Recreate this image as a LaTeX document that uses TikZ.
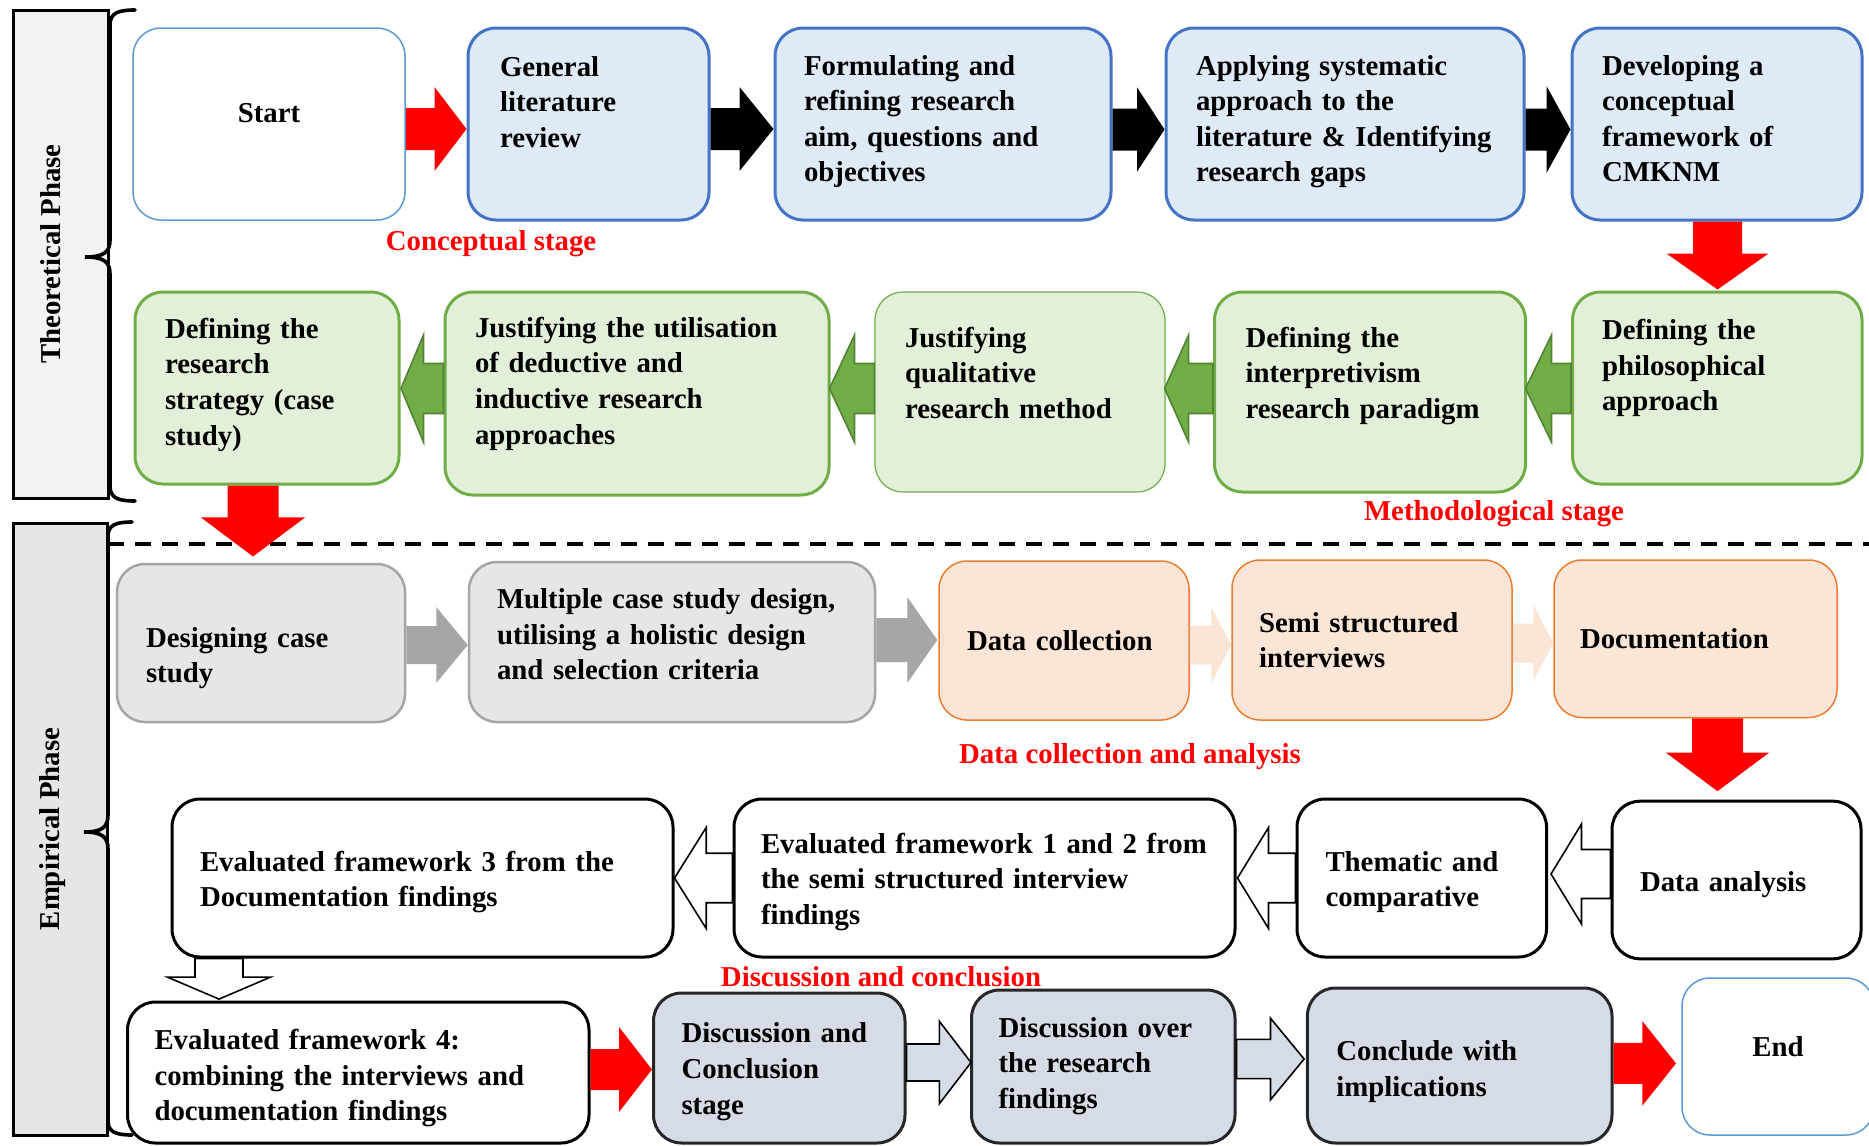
\documentclass[tikz,border=0pt]{standalone}
\usepackage{fontspec}
\setmainfont{Liberation Serif}
\usetikzlibrary{calc}
\definecolor{blueF}{HTML}{DEEBF7}
\definecolor{blueD}{HTML}{4472C4}
\definecolor{startD}{HTML}{5B9BD5}
\definecolor{greenF}{HTML}{E2F0D9}
\definecolor{greenD}{HTML}{70AD47}
\definecolor{greenAF}{HTML}{70AD47}
\definecolor{greenAD}{HTML}{548235}
\definecolor{grayF}{HTML}{E7E6E6}
\definecolor{grayD}{HTML}{A5A5A5}
\definecolor{grayAF}{HTML}{A6A6A6}
\definecolor{orF}{HTML}{FBE5D6}
\definecolor{orD}{HTML}{ED7D31}
\definecolor{bgF}{HTML}{D6DCE5}
\definecolor{phA}{HTML}{F2F2F2}
\definecolor{phB}{HTML}{E7E6E6}
\newcommand\bfnt{\fontsize{14.4}{17.8}\selectfont\bfseries}
\newcommand\txtup[1]{\rule[-#1]{0pt}{#1}}
\newcommand\txtdn[1]{\rule{0pt}{#1}}
% horizontal block arrow: style, tail, tip, Y, shaft half, head half, head length (signed), tip offset
\newcommand\harr[8]{%
  \path[#1] ($(#2 |- 0,#4)+(0,-#5)$) -- ($(#3 |- 0,#4)+({#8-(#7)},-#5)$)
    -- ($(#3 |- 0,#4)+({#8-(#7)},-#6)$) -- ($(#3 |- 0,#4)+(#8,0)$)
    -- ($(#3 |- 0,#4)+({#8-(#7)},#6)$) -- ($(#3 |- 0,#4)+({#8-(#7)},#5)$)
    -- ($(#2 |- 0,#4)+(0,#5)$) -- cycle;}
% vertical block arrow (downwards): style, tail, tip, X, shaft half, head half, head length, tip offset
\newcommand\varr[8]{%
  \path[#1] ($(#2 -| #4,0)+(-#5,0)$) -- ($(#3 -| #4,0)+(-#5,{#8-(#7)})$)
    -- ($(#3 -| #4,0)+(-#6,{#8-(#7)})$) -- ($(#3 -| #4,0)+(0,#8)$)
    -- ($(#3 -| #4,0)+(#6,{#8-(#7)})$) -- ($(#3 -| #4,0)+(#5,{#8-(#7)})$)
    -- ($(#2 -| #4,0)+(#5,0)$) -- cycle;}
\tikzset{
 bx/.style={rounded corners=14pt, align=left, font=\bfnt, inner ysep=0pt, line width=1.5pt, text=black},
 termbox/.style={bx, align=center, fill=white, draw=startD, line width=0.75pt},
 bluebox/.style={bx, fill=blueF, draw=blueD},
 greenbox/.style={bx, fill=greenF, draw=greenD},
 graybox/.style={bx, fill=grayF, draw=grayD, line width=1.25pt},
 orbox/.style={bx, fill=orF, draw=orD, line width=0.75pt},
 whbox/.style={bx, fill=white, draw=black},
 bgbox/.style={bx, fill=bgF, draw=black!85},
 phase/.style={draw=black, line width=1.5pt, font=\bfnt, inner sep=0pt, rotate=90},
 stage/.style={font=\bfnt, text=red, anchor=base, inner sep=0pt},
 brace/.style={line width=1.8pt, line cap=round},
 redA/.style={fill=red},
 blackA/.style={fill=black},
 greenA/.style={fill=greenAF, draw=greenAD, line width=0.8pt},
 grayA/.style={fill=grayAF},
 orA/.style={fill=orF},
 whiteA/.style={fill=white, draw=black, line width=0.8pt},
 bgA/.style={fill=bgF, draw=black, line width=0.8pt},
 sz/.style n args={3}{minimum width=#1pt, minimum height=#2pt, inner xsep=#3pt},
}
\begin{document}
\begin{tikzpicture}[x=0.5pt,y=-0.5pt]
\useasboundingbox (0,0) rectangle (1869,1146);
\fill[white] (0,0) rectangle (1869,1146);
\clip (0,0) rectangle (1869,1146);

% phase bars
\node[phase, fill=phA, minimum width=244pt, minimum height=47.5pt] (theo) at (60.5,254) {Theoretical Phase\txtup{9.5pt}};
\node[phase, fill=phB, minimum width=306pt, minimum height=47pt] (emp) at (60,829) {Empirical Phase\txtup{10pt}};

% braces
\draw[brace] (135,10) .. controls (118,10) and (110,13) .. (110,25) -- (110,240)
  .. controls (110,252) and (104,257) .. (85,257) .. controls (104,257) and (110,262) .. (110,274)
  -- (110,486) .. controls (110,498) and (118,501) .. (135,501);
\draw[brace] (132,522) .. controls (116,522) and (108,525) .. (108,536) -- (108,815)
  .. controls (108,827) and (102,832) .. (84,832) .. controls (102,832) and (108,837) .. (108,849)
  -- (108,1121) .. controls (108,1132) and (116,1135) .. (132,1135);

% dashed separator
\draw[line width=2pt, dash pattern=on 8pt off 5.5pt] (108,544) -- (1869,544);

% row 1
\node[termbox, sz={136}{96}{5}] (start) at (269,124) {Start\txtup{11pt}};
\node[bluebox, sz={120.5}{96}{16}, text width=88.5pt] (gen) at (588.5,124)
  {\mbox{General}\\\mbox{literature}\\\mbox{review}\txtup{22pt}};
\node[bluebox, sz={168}{96}{14.5}, text width=139pt] (form) at (943,124)
  {\mbox{Formulating and}\\\mbox{refining research}\\\mbox{aim, questions and}\\\mbox{objectives}\txtup{5.5pt}};
\node[bluebox, sz={179}{96}{15}, text width=149pt] (appl) at (1345,124)
  {\mbox{Applying systematic}\\\mbox{approach to the}\\\mbox{literature \& Identifying}\\\mbox{research gaps}\txtup{5.5pt}};
\node[bluebox, sz={145}{96}{15}, text width=115pt] (dev) at (1717,124)
  {\mbox{Developing a}\\\mbox{conceptual}\\\mbox{framework of}\\\mbox{CMKNM}\txtup{5.5pt}};

% row 2
\node[greenbox, sz={132}{96}{15}, text width=102pt] (strat) at (267,388)
  {\mbox{Defining the}\\\mbox{research}\\\mbox{strategy (case}\\\mbox{study)}\txtup{6.5pt}};
\node[greenbox, sz={192}{101.5}{15}, text width=162pt] (util) at (637,393.5)
  {\mbox{Justifying the utilisation}\\\mbox{of deductive and}\\\mbox{inductive research}\\\mbox{approaches}\txtup{13pt}};
\node[greenbox, line width=0.6pt, sz={145}{100}{15}, text width=115pt] (qual) at (1020,392)
  {\mbox{Justifying}\\\mbox{qualitative}\\\mbox{research method}\txtup{19.5pt}};
\node[greenbox, sz={155.5}{100}{15.5}, text width=124.5pt] (interp) at (1370,392)
  {\mbox{Defining the}\\\mbox{interpretivism}\\\mbox{research paradigm}\txtup{19.5pt}};
\node[greenbox, sz={144.75}{96}{14.75}, text width=115.25pt] (phil) at (1717.25,388)
  {\mbox{Defining the}\\\mbox{philosophical}\\\mbox{approach}\txtup{23pt}};

% row 3
\node[graybox, sz={144}{79}{14.5}, text width=115pt] (design) at (261,643)
  {\txtdn{25pt}\mbox{Designing case}\\\mbox{study}};
\node[graybox, sz={203}{80}{14}, text width=175pt] (multi) at (672,642)
  {\mbox{Multiple case study design,}\\\mbox{utilising a holistic design}\\\mbox{and selection criteria}\txtup{8pt}};
\node[orbox, sz={125}{79.5}{14}, text width=97pt] (dcol) at (1064,640.5)
  {\mbox{Data collection}};
\node[orbox, sz={140}{80}{13.5}, text width=113pt] (semi) at (1372,640)
  {\mbox{Semi structured}\\\mbox{interviews}};
\node[orbox, sz={141.5}{78.75}{13}, text width=115.5pt] (doc) at (1695.5,638.75)
  {\mbox{Documentation}};

% row 4
\node[whbox, sz={250.5}{79}{14}, text width=222.5pt] (ev3) at (422.5,878)
  {\txtdn{14pt}\mbox{Evaluated framework 3 from the}\\\mbox{Documentation findings}};
\node[whbox, sz={250.5}{79}{13.5}, text width=223.5pt] (ev12) at (984.5,878)
  {\txtdn{14pt}\mbox{Evaluated framework 1 and 2 from}\\\mbox{the semi structured interview}\\\mbox{findings}};
\node[whbox, sz={124.75}{79}{14.25}, text width=96.25pt] (them) at (1421.75,878)
  {\txtdn{14pt}\mbox{Thematic and}\\\mbox{comparative}};
\node[whbox, sz={124.5}{78.8}{14}, text width=96.5pt] (dana) at (1736.5,880)
  {\txtdn{14.8pt}\mbox{Data analysis}};

% row 5
\node[whbox, sz={230.75}{70.5}{13.5}, text width=203.75pt] (ev4) at (358.25,1072.5)
  {\txtdn{16pt}\mbox{Evaluated framework 4:}\\\mbox{combining the interviews and}\\\mbox{documentation findings}};
\node[bgbox, sz={125.75}{75}{14}, text width=97.75pt] (dcs) at (779.25,1068)
  {\txtdn{13.6pt}\mbox{Discussion and}\\\mbox{Conclusion}\\\mbox{stage}};
\node[bgbox, sz={131.75}{76.5}{13.5}, text width=104.75pt] (over) at (1103.25,1066.5)
  {\mbox{Discussion over}\\\mbox{the research}\\\mbox{findings}\txtup{3.6pt}};
\node[bgbox, sz={152.3}{77.5}{14.5}, text width=123.3pt] (concl) at (1459.7,1065.5)
  {\txtdn{16pt}\mbox{Conclude with}\\\mbox{implications}};
\node[termbox, sz={96}{78.5}{5}] (end) at (1778,1056.5) {End\txtup{10.5pt}};

% stage labels
\node[stage] (lconc) at (491,250.5) {Conceptual stage};
\node[stage] (lmeth) at (1494,520.5) {Methodological stage};
\node[stage] (ldata) at (1130,763.5) {Data collection and analysis};
\node[stage] (ldisc) at (881,986) {Discussion and conclusion};

% arrows row 1
\harr{redA}{start.east}{gen.west}{129}{21}{42}{32}{0}
\harr{blackA}{gen.east}{form.west}{129}{21}{42}{34}{0}
\harr{blackA}{form.east}{appl.west}{129.5}{21}{42.2}{27.5}{0}
\harr{blackA}{appl.east}{dev.west}{129.5}{21}{43.5}{24}{0}
\varr{redA}{dev.south}{phil.north}{1717.5}{24.5}{51}{36}{-1}
% arrows row 2
\harr{greenA}{phil.west}{interp.east}{388.5}{25}{53.5}{-26}{-1.5}
\harr{greenA}{interp.west}{qual.east}{388.5}{25}{53.5}{-24}{-1}
\harr{greenA}{qual.west}{util.east}{388.5}{25}{53.5}{-25}{-1}
\harr{greenA}{util.west}{strat.east}{388.5}{25}{53.5}{-22.5}{0.5}
\varr{redA}{strat.south}{design.north}{253}{25.5}{52}{39}{-6.3}
% arrows row 3
\harr{grayA}{design.east}{multi.west}{645}{19}{38}{31.5}{0}
\harr{grayA}{multi.east}{dcol.west}{640}{22}{43}{30}{-1}
\harr{orA}{dcol.east}{semi.west}{645}{19.5}{38}{20}{0}
\harr{orA}{semi.east}{doc.west}{643}{19.5}{38}{20}{0}
\varr{redA}{doc.south}{dana.north}{1717.5}{25.5}{51.5}{38.5}{-8.5}
% arrows row 4
\harr{whiteA}{dana.west}{them.east}{874}{24.5}{50}{-30.5}{3}
\harr{whiteA}{them.west}{ev12.east}{878}{24.75}{50.5}{-31}{1}
\harr{whiteA}{ev12.west}{ev3.east}{878}{24.75}{50.5}{-31.7}{0}
\varr{whiteA}{ev3.south}{ev4.north}{219}{24}{51.5}{22}{-1.4}
% arrows row 5
\harr{redA}{ev4.east}{dcs.west}{1069.5}{20.5}{42.5}{33}{0}
\harr{bgA}{dcs.east}{over.west}{1062.5}{18.5}{41.3}{31.7}{1}
\harr{bgA}{over.east}{concl.west}{1059}{19.6}{40.75}{33.6}{-1.8}
\harr{redA}{concl.east}{end.west}{1063.4}{20.5}{42.4}{33.7}{-5.3}
\end{tikzpicture}
\end{document}
